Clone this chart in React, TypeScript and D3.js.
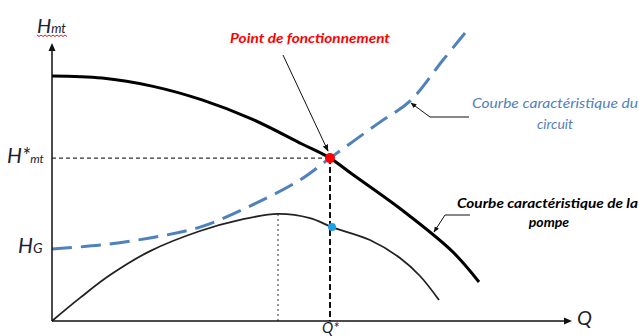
import React from "react";
import * as d3 from "d3";

// Data (arbitrary units: Q 0..100, H 0..100)
const pumpQ = [0, 10, 20, 30, 40, 50, 55.6, 60, 70, 80, 85.4];
const pumpH = [81.7, 81, 78.3, 73.7, 67.3, 59, 54.3, 49, 37, 23.3, 13];

const circuitQ = [0, 9.6, 19.6, 29.6, 39.6, 49.6, 55.6, 65.6, 71.6, 78.2, 82.6];
const circuitH = [24, 25.3, 27.7, 31.3, 38.3, 47, 54.3, 66.3, 73.3, 87, 96];

const effQ = [0, 5.6, 11.6, 19.6, 29.6, 37.6, 45.2, 51.6, 56, 63.6, 69.6, 73.6, 77.4];
const effH = [0, 7.7, 15.3, 23.3, 30, 33.7, 35.7, 34.3, 31.3, 27, 21, 15, 7];

const opQ = 55.6;
const opH = 54.3;
const effAtOp = 31.3;
const effDotQ = 56;
const effMaxQ = 45.2;
const effMaxH = 35.7;

const W = 639;
const H = 336;

export default function App() {
  const x = d3.scaleLinear().domain([0, 100]).range([52, 552]);
  const y = d3.scaleLinear().domain([0, 100]).range([321, 21]);

  const line = d3
    .line<[number, number]>()
    .x((d) => x(d[0]))
    .y((d) => y(d[1]))
    .curve(d3.curveCatmullRom.alpha(0.5));

  const pump = line(pumpQ.map((q, i) => [q, pumpH[i]]))!;
  const circuit = line(circuitQ.map((q, i) => [q, circuitH[i]]))!;
  const eff = line(effQ.map((q, i) => [q, effH[i]]))!;

  const x0 = x(0);
  const y0 = y(0);
  const font = "Lato, 'Open Sans', sans-serif";
  const labelColor = "#1b2233";

  // red wavy underline under Hmt
  const wave: string[] = [];
  for (let i = 0; i <= 15; i++) {
    const px = 37 + i * 2;
    const py = 35 + (i % 2 === 0 ? 0 : 1.5);
    wave.push(`${i === 0 ? "M" : "L"}${px},${py}`);
  }

  return (
    <svg
      width={W}
      height={H}
      style={{ position: "absolute", left: 0, top: 0, background: "#fff" }}
    >
      <defs>
        <marker id="ah" viewBox="0 0 10 10" refX="9" refY="5" markerWidth="7" markerHeight="7" orient="auto">
          <path d="M0,1 L10,5 L0,9 Z" fill="#111" />
        </marker>
        <marker id="ah2" viewBox="0 0 10 10" refX="9" refY="5" markerWidth="6" markerHeight="6" orient="auto">
          <path d="M0,1 L10,5 L0,9 Z" fill="#111" />
        </marker>
      </defs>

      {/* guide lines */}
      <line x1={x0} y1={y(opH)} x2={x(opQ)} y2={y(opH)} stroke="#333" strokeWidth={1.2} strokeDasharray="4,3" />
      <line x1={x(opQ)} y1={y(opH)} x2={x(opQ)} y2={y0} stroke="#111" strokeWidth={2} strokeDasharray="6,3" />
      <line x1={x(effMaxQ)} y1={y(effMaxH)} x2={x(effMaxQ)} y2={y0} stroke="#777" strokeWidth={1.5} strokeDasharray="2,3" />

      {/* curves */}
      <path d={eff} fill="none" stroke="#222" strokeWidth={1.8} />
      <path d={circuit} fill="none" stroke="#4f81bd" strokeWidth={3} strokeDasharray="20,9" />
      <path d={pump} fill="none" stroke="#000" strokeWidth={3} />

      {/* axes */}
      <line x1={x0} y1={y0} x2={x0} y2={50} stroke="#111" strokeWidth={1.5} />
      <path d={`M${x0},43 L${x0 - 3.5},51 L${x0 + 3.5},51 Z`} fill="#111" />
      <line x1={x0} y1={y0} x2={565} y2={y0} stroke="#111" strokeWidth={1.5} />
      <path d={`M572,${y0} L564,${y0 - 3.5} L564,${y0 + 3.5} Z`} fill="#111" />

      {/* points */}
      <circle cx={x(opQ)} cy={y(opH)} r={5} fill="#ff0000" />
      <circle cx={x(effDotQ)} cy={y(effAtOp)} r={4} fill="#1ea0e8" />

      {/* annotations */}
      <line x1={283} y1={55} x2={328} y2={151} stroke="#111" strokeWidth={1} markerEnd="url(#ah)" />
      <text x={230} y={43} fill="#ff0000" fontFamily={font} fontStyle="italic" fontWeight={700} fontSize={14} textLength={160} lengthAdjust="spacingAndGlyphs">
        Point de fonctionnement
      </text>

      <polyline points="469,117 430,117 411,103" fill="none" stroke="#111" strokeWidth={1} markerEnd="url(#ah2)" />
      <text x={472} y={108} fill="#4f81bd" fontFamily={font} fontStyle="italic" fontSize={14} textLength={166} lengthAdjust="spacingAndGlyphs">
        Courbe caractéristique du
      </text>
      <text x={555} y={129} fill="#4f81bd" fontFamily={font} fontStyle="italic" fontSize={14} textAnchor="middle">
        circuit
      </text>

      <polyline points="470,215 445,215 434,232" fill="none" stroke="#111" strokeWidth={1} markerEnd="url(#ah2)" />
      <text x={457} y={208} fill="#000" fontFamily={font} fontStyle="italic" fontWeight={700} fontSize={14} textLength={181} lengthAdjust="spacingAndGlyphs">
        Courbe caractéristique de la
      </text>
      <text x={549} y={227} fill="#000" fontFamily={font} fontStyle="italic" fontWeight={700} fontSize={14} textAnchor="middle">
        pompe
      </text>

      {/* axis labels */}
      <text x={37} y={33} fill={labelColor} fontFamily={font} fontStyle="italic">
        <tspan fontSize={20}>H</tspan>
        <tspan fontSize={13}>mt</tspan>
      </text>
      <path d={wave.join(" ")} fill="none" stroke="#e02020" strokeWidth={1} />

      <text x={7} y={163} fill={labelColor} fontFamily={font} fontStyle="italic">
        <tspan fontSize={21}>H*</tspan>
        <tspan fontSize={12}>mt</tspan>
      </text>
      <text x={18} y={253} fill={labelColor} fontFamily={font} fontStyle="italic">
        <tspan fontSize={21}>H</tspan>
        <tspan fontSize={14}>G</tspan>
      </text>
      <text x={577} y={325} fill={labelColor} fontFamily={font} fontStyle="italic" fontSize={20}>
        Q
      </text>
      <text x={322} y={333} fill={labelColor} fontFamily={font} fontStyle="italic" fontSize={15}>
        Q*
      </text>
    </svg>
  );
}
